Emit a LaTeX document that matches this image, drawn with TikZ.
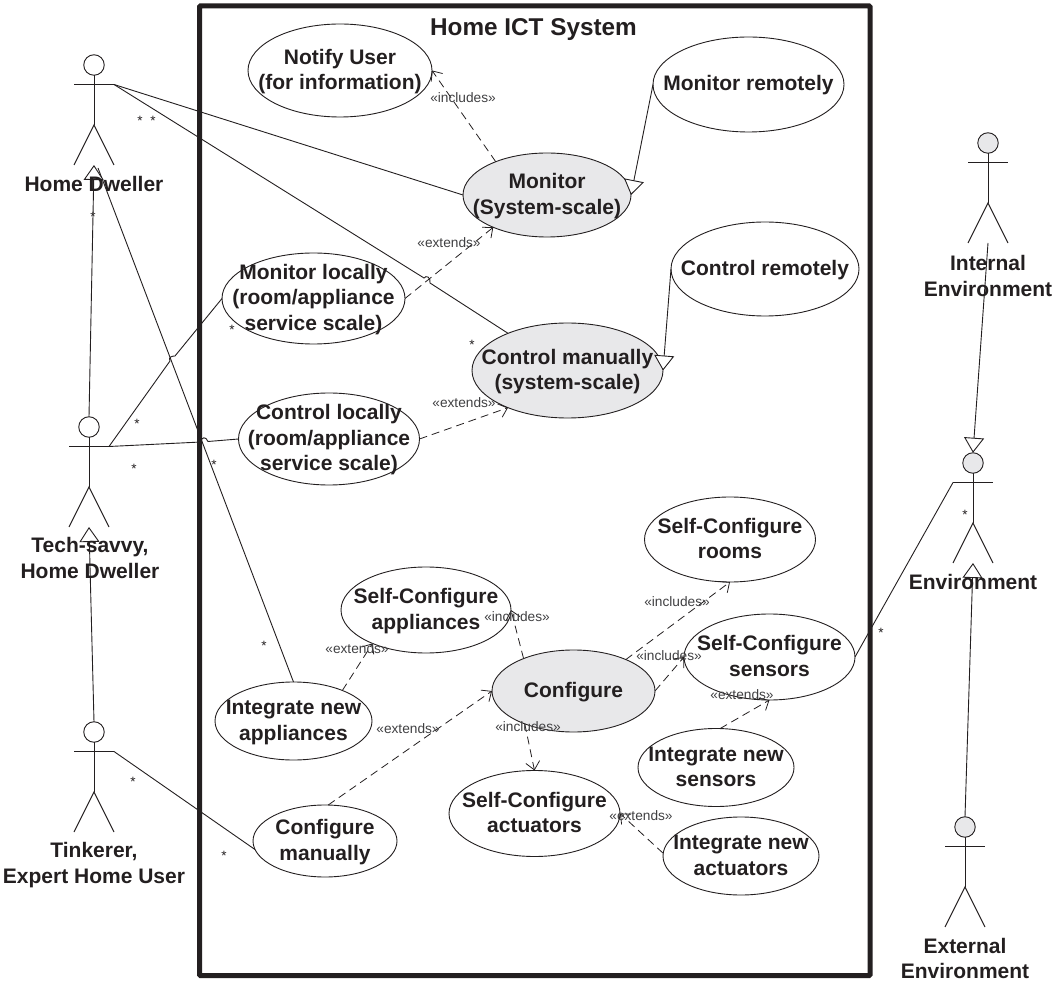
\documentclass[tikz,border=0pt]{standalone}
\usepackage{fontspec}
\setmainfont{Liberation Sans}
\usetikzlibrary{shapes.geometric,arrows.meta}
\definecolor{ink}{HTML}{231F20}
\definecolor{softgray}{HTML}{E8E8EA}
\definecolor{lbl}{HTML}{404042}
\newcommand{\uct}[1]{\lower2.5pt\vbox to 0pt{\vss\hbox to 0pt{\hss\begin{tabular}{@{}c@{}}#1\end{tabular}\hss}\vss}}
\tikzset{
  usecase/.style={draw=ink,ellipse,line width=0.9pt,inner sep=0pt,outer sep=0pt,text=ink,
    font=\fontsize{21}{25.5}\selectfont\bfseries},
  core/.style={usecase,fill=softgray},
  actorhead/.style={draw=ink,circle,line width=0.9pt,minimum size=20.5pt,inner sep=0pt,outer sep=0pt},
  actorline/.style={draw=ink,line width=1pt},
  actorlabel/.style={text=ink,align=center,inner sep=0pt,font=\fontsize{21}{25.5}\selectfont\bfseries},
  assoc/.style={draw=ink,line width=0.9pt},
  gen/.style={draw=ink,line width=0.9pt,-{Triangle[length=15pt,width=20pt,fill=white]}},
  dep/.style={draw=ink,line width=0.8pt,dash pattern=on 8pt off 5pt,-{Straight Barb[length=8pt,width=14pt]}},
  stereo/.style={text=lbl,inner sep=0pt,font=\fontsize{13.7}{15}\selectfont},
  mult/.style={text=ink,inner sep=0pt,yshift=-3pt,font=\fontsize{13.5}{15}\selectfont},
}
\newcommand{\actorfig}[4]{%
  \node[actorhead,fill=#4] (#1) at (#2,#3) {};
  \coordinate (#1L) at (#2-20,#3+19.5);
  \coordinate (#1R) at (#2+20,#3+19.5);
  \coordinate (#1W) at (#2,#3+60);
  \coordinate (#1F) at (#2,#3+100);
  \draw[actorline] (#1L) -- (#1R);
  \draw[actorline] (#1.south) -- (#1W);
  \draw[actorline] (#2-20,#3+100) -- (#1W) -- (#2+20,#3+100);
}
\begin{document}
\begin{tikzpicture}[x=1pt,y=-1pt]
\useasboundingbox (0,0) rectangle (1053,981);
% system boundary
\node[draw=ink,line width=5pt,rounded corners=1pt,minimum width=670.5pt,minimum height=969.5pt,inner sep=0pt,outer sep=0pt,anchor=north west] (system) at (199.5,6) {};
\node[text=ink,inner sep=0pt,font=\fontsize{24.3}{28}\selectfont\bfseries] (title) at (533.5,29.5) {Home ICT System};
% use cases
\node[usecase,minimum width=184pt,minimum height=93pt] (notify) at (340,70.5) {\uct{Notify User\\(for information)}};
\node[usecase,minimum width=191pt,minimum height=95pt] (monrem) at (748.5,84.5) {\uct{Monitor remotely}};
\node[core,minimum width=168pt,minimum height=84pt] (mon) at (547,195) {\uct{Monitor\\(System-scale)}};
\node[usecase,minimum width=188pt,minimum height=94pt] (conrem) at (765,269) {\uct{Control remotely}};
\node[core,minimum width=191pt,minimum height=95pt] (ctrl) at (567.5,370.5) {\uct{Control manually\\(system-scale)}};
\node[usecase,minimum width=183pt,minimum height=91pt] (monloc) at (313.5,298.5) {\uct{Monitor locally\\(room/appliance\\service scale)}};
\node[usecase,minimum width=181pt,minimum height=92pt] (conloc) at (329,439) {\uct{Control locally\\(room/appliance\\service scale)}};
\node[usecase,minimum width=171pt,minimum height=85pt] (rooms) at (730,539.5) {\uct{Self-Configure\\rooms}};
\node[usecase,minimum width=171pt,minimum height=86pt] (sens) at (769.5,657) {\uct{Self-Configure\\sensors}};
\node[core,minimum width=163pt,minimum height=82pt] (conf) at (573.5,691) {\uct{Configure}};
\node[usecase,minimum width=170pt,minimum height=86pt] (selfapp) at (426,610) {\uct{Self-Configure\\appliances}};
\node[usecase,minimum width=157pt,minimum height=78pt] (intapp) at (293.5,721) {\uct{Integrate new\\appliances}};
\node[usecase,minimum width=156pt,minimum height=78pt] (intsens) at (716,767.5) {\uct{Integrate new\\sensors}};
\node[usecase,minimum width=171pt,minimum height=86pt] (act) at (534.5,813.5) {\uct{Self-Configure\\actuators}};
\node[usecase,minimum width=156pt,minimum height=78pt] (intact) at (741,856) {\uct{Integrate new\\actuators}};
\node[usecase,minimum width=144pt,minimum height=72pt] (conman) at (325,841) {\uct{Configure\\manually}};
% actors
\actorfig{home}{94}{65}{white}
\actorfig{tech}{89}{427}{white}
\actorfig{tink}{94}{732}{white}
\actorfig{inten}{988}{143}{softgray}
\actorfig{env}{973}{463}{softgray}
\actorfig{exten}{965}{827}{softgray}
\coordinate (homeTR) at (98,168);
% jumps
\coordinate (jma) at (170,361);
\coordinate (jmb) at (175,356);
\coordinate (jca) at (201,442);
\coordinate (jcb) at (208,441.5);
\coordinate (jha) at (424,278);
\coordinate (jhb) at (430,283);
% associations
\draw[assoc] (homeR) -- (mon.west);
\draw[assoc] (homeR) -- (jha) .. controls (426,275) and (431,277) .. (jhb) -- (ctrl.148);
\draw[assoc] (techR) -- (jma) .. controls (168,357) and (172,356) .. (jmb) -- (monloc.west);
\draw[assoc] (techR) -- (jca) .. controls (201,437) and (206,436) .. (jcb) -- (conloc.west);
\draw[assoc] (intapp.north) -- (homeTR);
\draw[assoc] (tinkR) -- (conman.187);
\draw[assoc] (envL) -- (sens.east);
% generalizations
\draw[gen] (tech.north) -- (homeF);
\draw[gen] (tink.north) -- (techF);
\draw[gen] (intenF) -- (env.north);
\draw[gen] (exten.north) -- (envF);
\draw[gen] (monrem.west) -- (mon.east);
\draw[gen] (conrem.west) -- (ctrl.east);
% dependencies
\draw[dep] (mon.147) -- (notify.east);
\draw[dep] (monloc.east) -- (mon.211);
\draw[dep] (conloc.east) -- (ctrl.212);
\draw[dep] (intapp.32) -- (selfapp.212);
\draw[dep] (conf.147) -- (selfapp.east);
\draw[dep] (conman.85) -- (conf.west);
\draw[dep] (conf.31) -- (rooms.south);
\draw[dep] (conf.east) -- (sens.west);
\draw[dep] (intsens.84) -- (sens.south);
\draw[dep] (conf.214) -- (act.north);
\draw[dep] (intact.178) -- (act.east);
% actor labels
\node[actorlabel] (homeL1) at (94,184) {Home Dweller};
\node[actorlabel] (techL1) at (90,558) {Tech-savvy,\\Home Dweller};
\node[actorlabel] (tinkL1) at (94,865) {Tinkerer,\\Expert Home User};
\node[actorlabel] (intL1) at (988,276) {Internal\\Environment};
\node[actorlabel] (envL1) at (973,582) {Environment};
\node[actorlabel] (extL1) at (965,958.5) {External\\Environment};
% stereotypes
\node[stereo] (s1) at (463,98) {«includes»};
\node[stereo] (s2) at (449,243) {«extends»};
\node[stereo] (s3) at (464,403) {«extends»};
\node[stereo] (s4) at (357,649) {«extends»};
\node[stereo] (s5) at (408,729) {«extends»};
\node[stereo] (s6) at (517,617) {«includes»};
\node[stereo] (s7) at (677,602) {«includes»};
\node[stereo] (s8) at (669,656) {«includes»};
\node[stereo] (s9) at (742,695) {«extends»};
\node[stereo] (s10) at (528,727) {«includes»};
\node[stereo] (s11) at (641,816) {«extends»};
% multiplicities
\node[mult] (m1) at (140,118) {*};
\node[mult] (m2) at (153,118) {*};
\node[mult] (m3) at (93,214) {*};
\node[mult] (m4) at (232,327) {*};
\node[mult] (m5) at (137,421) {*};
\node[mult] (m6) at (134,466) {*};
\node[mult] (m7) at (214,462) {*};
\node[mult] (m8) at (264,643) {*};
\node[mult] (m9) at (133,779) {*};
\node[mult] (m10) at (224,853) {*};
\node[mult] (m11) at (472,342) {*};
\node[mult] (m12) at (965,512) {*};
\node[mult] (m13) at (881,630) {*};
\end{tikzpicture}
\end{document}
